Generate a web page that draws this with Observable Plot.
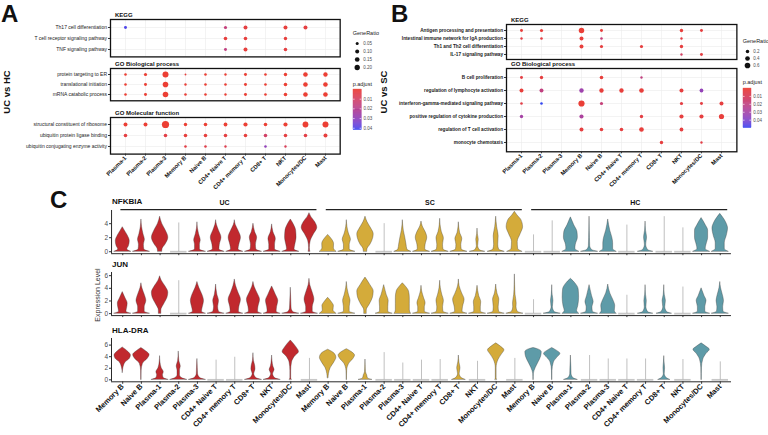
<!DOCTYPE html>
<html><head><meta charset="utf-8">
<script src="https://cdn.jsdelivr.net/npm/d3@7"></script>
<script src="https://cdn.jsdelivr.net/npm/@observablehq/plot@0.6"></script>
<style>
body{margin:0;background:#fff;}
#fig{position:relative;width:768px;height:435px;overflow:hidden;background:#fff;}
</style></head><body><div id="fig"></div>
<script>
// ---------------- DATA ----------------
const cellsDot = ["Plasma-1","Plasma-2","Plasma-3","Memory B","Naive B","CD4+ Naive T","CD4+ memory T","CD8+ T","NKT","Monocytes/DC","Mast"];
const _ = null;
// Panel A (UC vs HC)
const aKeggTerms = ["Th17 cell differentiation","T cell receptor signaling pathway","TNF signaling pathway"];
const aKeggRatio = [
  [0.048,_,_,_,_,0.057,0.10,_,0.10,0.10,_],
  [_,_,_,_,_,0.078,0.078,_,0.067,_,_],
  [_,_,_,_,_,0.048,0.10,_,0.078,_,_]];
const aKeggP = [
  [0.040,_,_,_,_,0.016,0.003,_,0.002,0.003,_],
  [_,_,_,_,_,0.002,0.002,_,0.002,_,_],
  [_,_,_,_,_,0.017,0.002,_,0.003,_,_]];
const aBpTerms = ["protein targeting to ER","translational initiation","mRNA catabolic process"];
const aBpRatio = [
  [0.032,0.057,0.265,0.012,0.032,0.026,0.048,0.032,0.067,0.142,0.128],
  [0.032,0.048,0.226,0.026,0.032,0.032,0.048,0.032,0.078,0.142,0.142],
  [0.032,0.048,0.226,0.032,0.032,0.026,0.048,0.032,0.078,0.142,0.142]];
const aBpP = [
  [0.0002,0.0003,0.0001,0.002,0.0004,0.0005,0.0003,0.0004,0.0002,0.0001,0.0001],
  [0.0002,0.0003,0.0001,0.001,0.0004,0.0005,0.0003,0.0004,0.0002,0.0001,0.0001],
  [0.0002,0.0003,0.0001,0.001,0.0004,0.0005,0.0003,0.0004,0.0002,0.0001,0.0001]];
const aMfTerms = ["structural constituent of ribosome","ubiquitin protein ligase binding","ubiquitin conjugating enzyme activity"];
const aMfRatio = [
  [0.10,0.10,0.40,0.067,0.078,0.089,0.114,0.078,0.114,0.245,0.265],
  [0.078,_,0.078,0.078,0.078,0.078,0.078,0.078,0.078,0.078,0.10],
  [_,_,_,0.032,0.032,0.026,_,0.032,0.026,_,_]];
const aMfP = [
  [0.0001,0.0002,0.0001,0.0002,0.0001,0.0001,0.0001,0.0001,0.0001,0.0001,0.0001],
  [0.003,_,0.004,0.002,0.002,0.003,0.002,0.011,0.003,0.004,0.002],
  [_,_,_,0.004,0.005,0.006,_,0.030,0.008,_,_]];
// Panel B (UC vs SC)
const bKeggTerms = ["Antigen processing and presentation","Intestinal immune network for IgA production","Th1 and Th2 cell differentiation","IL-17 signaling pathway"];
const bKeggRatio = [
  [0.14,0.166,_,0.57,0.14,_,_,_,0.19,0.14,_],
  [0.081,0.10,_,0.28,0.10,_,_,_,0.081,_,_],
  [_,_,_,0.28,0.166,_,0.166,_,0.19,_,_],
  [_,_,_,_,_,_,_,_,0.081,0.14,_]];
const bKeggP = [
  [0.002,0.002,_,0.001,0.002,_,_,_,0.002,0.003,_],
  [0.004,0.004,_,0.002,0.018,_,_,_,0.004,_,_],
  [_,_,_,0.002,0.003,_,0.003,_,0.003,_,_],
  [_,_,_,_,_,_,_,_,0.012,0.004,_]];
const bBpTerms = ["B cell proliferation","regulation of lymphocyte activation","interferon-gamma-mediated signaling pathway","positive regulation of cytokine production","regulation of T cell activation","monocyte chemotaxis"];
const bBpRatio = [
  [0.14,0.19,_,_,0.22,_,0.081,_,_,_,_],
  [0.28,0.28,_,0.35,0.35,0.35,0.39,_,0.28,0.25,_],
  [0.10,0.10,_,0.75,0.166,_,_,_,0.166,0.14,0.28],
  [0.19,_,_,0.31,_,_,0.19,_,0.31,0.31,0.50],
  [_,_,_,0.28,0.22,0.22,0.39,_,0.25,_,_],
  [_,_,_,_,_,_,_,0.19,_,0.081,_]];
const bBpP = [
  [0.004,0.003,_,_,0.002,_,0.020,_,_,_,_],
  [0.002,0.020,_,0.032,0.002,0.002,0.002,_,0.003,0.035,_],
  [0.005,0.050,_,0.001,0.018,_,_,_,0.004,0.004,0.003],
  [0.030,_,_,0.028,_,_,0.004,_,0.003,0.003,0.002],
  [_,_,_,0.003,0.003,0.003,0.002,_,0.003,_,_],
  [_,_,_,_,_,_,_,0.003,_,0.005,_]];
const aLegendRatio = [0.05,0.10,0.15,0.20];
const aLegendLabels = ["0.05","0.10","0.15","0.20"];
const bLegendRatio = [0.2,0.4,0.6];
const bLegendLabels = ["0.2","0.4","0.6"];
const pTicks = [0.01,0.02,0.03,0.04];

// Panel C: violin profiles [expression level, relative width]; a single number = flat violin (top of line)
const groupsC = ["UC","SC","HC"];
const cellsC = ["Memory B","Naive B","Plasma-1","Plasma-2","Plasma-3","CD4+ Naive T","CD4+ memory T","CD8+ T","NKT","Monocytes/DC","Mast"];
const genesC = ["NFKBIA","JUN","HLA-DRA"];
const nfkbiaUC = [
  [[0,1],[0.3,0.55],[0.8,0.75],[1.5,0.85],[2.3,0.6],[3,0.25],[3.5,0]],
  [[0,1],[0.3,0.35],[1,0.3],[1.7,0.42],[2.5,0.25],[3.5,0.08],[4.6,0]],
  [[0,0.25],[0.4,0.3],[1,0.65],[2,1],[3,0.7],[4,0.25],[5,0]],
  4.1,
  [[0,1],[0.3,0.3],[1,0.3],[1.6,0.4],[2.5,0.2],[3.3,0.06],[4.2,0]],
  [[0,1],[0.3,0.4],[1,0.45],[2,0.65],[3,0.35],[3.8,0.1],[4.5,0]],
  [[0,1],[0.3,0.45],[1,0.55],[2,0.75],[3,0.45],[3.8,0.12],[4.5,0]],
  [[0,1],[0.3,0.35],[1,0.3],[2,0.45],[2.8,0.2],[4,0]],
  [[0,1],[0.3,0.35],[1,0.35],[1.8,0.45],[2.8,0.15],[3.9,0]],
  [[0,1],[0.3,0.45],[1,0.55],[2,0.7],[3,0.65],[3.8,0.4],[4.6,0]],
  [[0,0.1],[0.5,0.05],[1.5,0.15],[2.5,0.55],[3.4,0.95],[4.2,0.7],[5,0.2],[5.5,0]]];
const nfkbiaSC = [
  [[0,1],[0.5,0.7],[1.1,0.72],[1.7,0.5],[2.4,0]],
  [[0,1],[0.3,0.35],[1,0.35],[1.7,0.5],[2.6,0.25],[3.5,0.08],[4.5,0]],
  [[0,0.2],[0.4,0.25],[1,0.6],[2,0.95],[2.5,1],[3.3,0.7],[4.2,0.25],[5,0]],
  4.0,
  [[0,1],[0.3,0.55],[1,0.45],[2,0.3],[3,0.12],[4.5,0]],
  [[0,1],[0.3,0.45],[1,0.5],[2,0.7],[2.8,0.5],[3.6,0.15],[4.3,0]],
  [[0,1],[0.3,0.4],[1,0.35],[1.9,0.45],[2.8,0.2],[3.8,0.05],[4.7,0]],
  [[0,1],[0.3,0.35],[1,0.3],[1.8,0.42],[2.7,0.15],[4.2,0]],
  [[0,0.9],[0.2,0.3],[0.8,0.08],[1.7,0.15],[2.5,0.04],[3.3,0]],
  [[0,1],[0.3,0.35],[1,0.25],[2.2,0.3],[3.5,0.12],[5,0]],
  [[0,0.9],[0.4,0.4],[1.4,0.35],[2.5,0.7],[3.5,1],[4.5,0.8],[5.2,0.3],[5.7,0]]];
const nfkbiaHC = [
  2.4,
  4.4,
  [[0,1],[0.4,0.55],[1,0.6],[2,0.85],[2.8,0.8],[3.8,0.4],[4.9,0]],
  [[0,1],[0.25,0.3],[0.8,0.08],[2,0.05],[3,0.03],[5,0]],
  [[0,1],[0.4,0.6],[1.2,0.6],[2,0.5],[3,0.25],[4.6,0]],
  3.8,
  [[0,0.9],[0.25,0.3],[1,0.08],[2,0.18],[3,0.06],[4.3,0]],
  5.0,
  3.4,
  [[0,1],[0.4,0.5],[1,0.6],[2,0.8],[3,0.8],[3.8,0.5],[4.8,0]],
  [[0,1],[0.4,0.55],[1.2,0.55],[2.3,0.8],[3.3,0.95],[4.2,0.7],[5.4,0]]];
const junUC = [
  [[0,1],[0.3,0.45],[1,0.55],[1.6,0.6],[2.4,0.35],[3.4,0]],
  [[0,1],[0.3,0.4],[1,0.4],[2,0.6],[3,0.4],[4,0.12],[4.8,0]],
  [[0,0.15],[0.5,0.15],[1.5,0.5],[2.5,0.9],[3.3,1],[4.2,0.7],[5.2,0.2],[5.9,0]],
  5.2,
  [[0,1],[0.3,0.55],[1,0.65],[2,0.8],[3,0.6],[4,0.25],[5,0]],
  [[0,1],[0.3,0.35],[1,0.25],[2,0.35],[3,0.15],[4.6,0]],
  [[0,1],[0.3,0.5],[1,0.55],[2.2,0.75],[3.3,0.45],[4.4,0.15],[5.4,0]],
  [[0,1],[0.3,0.55],[1,0.6],[2.2,0.8],[3.2,0.5],[4.2,0.15],[5,0]],
  [[0,1],[0.3,0.55],[1,0.6],[2,0.75],[3,0.45],[4.3,0]],
  [[0,1],[0.25,0.3],[0.8,0.1],[2,0.06],[3,0.03],[4.1,0]],
  [[0,1],[0.3,0.4],[1,0.4],[2.2,0.6],[3.3,0.4],[4.5,0.1],[5.5,0]]];
const junSC = [
  [[0,1],[0.5,0.65],[1.2,0.7],[1.8,0.45],[2.5,0]],
  [[0,1],[0.3,0.35],[1,0.35],[2,0.45],[3,0.25],[4,0.08],[5,0]],
  [[0,0.15],[0.5,0.15],[1.5,0.55],[2.5,0.9],[3.5,1],[4.5,0.6],[5.7,0]],
  [[0,1],[0.3,0.5],[1,0.5],[2,0.55],[3,0.3],[4.5,0]],
  [[0,1],[0.5,0.85],[1.5,0.85],[2.5,0.85],[3.5,0.75],[4.3,0.35],[4.8,0]],
  [[0,1],[0.3,0.4],[1,0.4],[1.6,0.5],[2.5,0.3],[3.5,0.08],[4.4,0]],
  [[0,1],[0.3,0.4],[1,0.35],[2,0.45],[3,0.25],[4,0.08],[5.2,0]],
  [[0,1],[0.3,0.45],[1,0.5],[2.2,0.7],[3.2,0.4],[4.3,0.1],[5.4,0]],
  [[0,1],[0.3,0.4],[1,0.4],[1.8,0.45],[2.8,0.2],[4.4,0]],
  [[0,1],[0.3,0.35],[1,0.3],[2.2,0.38],[3.2,0.15],[4.6,0]],
  [[0,1],[0.3,0.35],[1,0.2],[1.6,0.22],[3,0.08],[4.5,0.03],[6.2,0]]];
const junHC = [
  2.2,
  [[0,1],[0.25,0.3],[1,0.08],[2,0.15],[3,0.05],[4.5,0]],
  [[0,1],[0.4,0.75],[1.2,0.9],[2.5,1],[3.8,0.95],[4.7,0.6],[5.5,0]],
  [[0,1],[0.3,0.4],[1,0.35],[1.8,0.5],[2.8,0.3],[4.5,0]],
  [[0,1],[0.4,0.8],[1.2,0.85],[2.2,0.6],[3.2,0.25],[4.6,0]],
  2.9,
  [[0,0.9],[0.25,0.3],[1,0.1],[2,0.15],[3,0.05],[4.5,0]],
  [[0,0.9],[0.25,0.35],[1,0.12],[2,0.2],[3,0.06],[4.5,0]],
  4.2,
  [[0,1],[0.3,0.45],[1,0.45],[2,0.6],[2.8,0.35],[4,0]],
  [[0,1],[0.3,0.4],[1,0.35],[2,0.45],[3,0.3],[4,0.1],[5,0]]];
const hladraUC = [
  [[1.2,0],[2,0.08],[3,0.35],[3.6,0.85],[4.2,1],[4.8,0.7],[5.6,0]],
  [[0,0.02],[1.5,0.03],[2.8,0.2],[3.6,0.75],[4.3,1],[4.9,0.6],[5.5,0]],
  [[0,1],[0.3,0.45],[0.8,0.35],[1.3,0.45],[2,0.2],[3,0.05],[4.1,0]],
  [[0,1],[0.3,0.4],[0.8,0.15],[1.6,0.15],[2.3,0.25],[3.2,0.08],[4.9,0]],
  [[0,1],[0.3,0.35],[1,0.08],[2,0.05],[3.6,0]],
  3.4,
  3.9,
  [[0,1],[0.3,0.35],[1,0.1],[1.8,0.25],[2.5,0.2],[3.3,0.06],[4.6,0]],
  [[0,1],[0.3,0.35],[1,0.12],[1.7,0.3],[2.3,0.15],[3.2,0.05],[4.2,0]],
  [[0,0.12],[0.3,0.05],[1.5,0.05],[3,0.15],[4,0.5],[4.8,1],[5.6,0.7],[6.8,0]],
  3.7];
const hladraSC = [
  [[0.3,0.05],[1,0.1],[2,0.3],[3,0.75],[3.8,1],[4.5,0.8],[5.2,0]],
  [[0,0.02],[1.5,0.04],[2.8,0.3],[3.6,0.8],[4.2,1],[4.7,0.7],[5.3,0]],
  [[0,0.8],[0.25,0.3],[0.8,0.2],[1.3,0.06],[2.5,0.02],[3.5,0]],
  4.7,
  2.9,
  3.4,
  3.5,
  [[0,0.8],[0.3,0.35],[1,0.1],[2,0.2],[3,0.07],[4.2,0]],
  3.2,
  [[0,0.1],[0.3,0.05],[2,0.05],[3.5,0.3],[4.4,0.7],[5.1,1],[5.7,0.6],[6.3,0]],
  3.7];
const hladraHC = [
  [[0,0.02],[1,0.04],[2,0.25],[3,0.6],[4,0.92],[4.8,1],[5.3,0.5],[5.5,0]],
  [[0,0.02],[1.5,0.03],[3,0.2],[3.8,0.6],[4.5,1],[5,0.6],[5.5,0]],
  [[0,0.8],[0.3,0.3],[1,0.08],[2,0.06],[3,0.03],[4.2,0]],
  4.2,
  3.6,
  3.6,
  3.6,
  [[0,0.7],[0.3,0.3],[1,0.06],[2,0.1],[3,0.04],[4.1,0]],
  3.5,
  [[0,0.02],[2,0.04],[3.5,0.2],[4.5,0.6],[5.2,1],[5.7,0.6],[6.3,0]],
  3.1];

// ---------------- STYLE / HELPERS ----------------
const FONT = '"Liberation Sans", Arial, Helvetica, sans-serif';
const RED = "#ec3f33", BLUE = "#3347f2";
const groupColors = ["#c1292e","#d4ab3a","#5e9ba8"];
const fig = document.getElementById("fig");

function put(opts, frame, pad) {
  const [x0,y0,x1,y1] = frame;
  const [t,r,b,l] = pad;
  const svg = Plot.plot({...opts, width: x1-x0+l+r, height: y1-y0+t+b,
    marginTop:t, marginRight:r, marginBottom:b, marginLeft:l,
    style:{background:"transparent", fontFamily:FONT, overflow:"visible", maxWidth:"none"}});
  svg.style.position = "absolute";
  svg.style.left = (x0-l) + "px";
  svg.style.top = (y0-t) + "px";
  fig.appendChild(svg);
  return svg;
}
const colorCfg = d => ({type:"linear", domain:d, range:[RED,BLUE], interpolate:"lab"});

function dotFacet(title, terms, ratios, pvals, frame, cfg) {
  const rows = [];
  terms.forEach((t,i) => cellsDot.forEach((c,j) => {
    if (ratios[i][j] != null) rows.push({term:t, cell:c, ratio:ratios[i][j], p:pvals[i][j]});
  }));
  const marks = [
    Plot.gridX(cellsDot, {stroke:"#ebebeb", strokeOpacity:1, strokeWidth:0.6}),
    Plot.gridY(terms, {stroke:"#ebebeb", strokeOpacity:1, strokeWidth:0.6}),
    Plot.axisY({label:null, tickSize:2, tickPadding:1.5, fontSize:cfg.yFont, fontWeight:cfg.yWeight, fill:"#1a1a1a", stroke:"#333"}),
    Plot.dot(rows, {x:"cell", y:"term", r:"ratio", fill:"p"}),
    Plot.frame({stroke:"#111", strokeWidth:1.3}),
    Plot.text([title], {text:d=>d, frameAnchor:"top-left", lineAnchor:"bottom", textAnchor:"start", dx:4.5, dy:-2, fontSize:6, fontWeight:"bold", fill:"#111"})
  ];
  if (cfg.xAxis) marks.push(Plot.axisX({label:null, tickSize:2, tickPadding:1, tickRotate:-45, fontSize:5.8, fontWeight:"bold", fill:"#111", stroke:"#333"}));
  put({
    x:{type:"point", domain:cellsDot, padding:0.6, axis:null, label:null},
    y:{type:"point", domain:terms, padding:0.6, axis:null, label:null},
    r:{type:"pow", exponent:0.5, domain:cfg.rDomain, range:cfg.rRange},
    color:colorCfg(cfg.pDomain),
    marks
  }, frame, [12, 4, 50, cfg.left]);
}

function sizeLegend(vals, labels, frame, cfg) {
  const d = vals.map((v,i)=>({v, lab:labels[i]}));
  put({
    y:{type:"point", domain:labels, padding:0, axis:null},
    r:{type:"pow", exponent:0.5, domain:cfg.rDomain, range:cfg.rRange},
    marks:[
      Plot.dot(d, {y:"lab", r:"v", fill:"#111", frameAnchor:"left", dx:cfg.dotDx}),
      Plot.text(d, {y:"lab", text:"lab", frameAnchor:"left", dx:cfg.textDx, textAnchor:"start", fontSize:4.5, fill:"#4d4d4d"})
    ]
  }, frame, [4,10,4,4]);
}

function colorbar(pDomain, frame) {
  const step = pDomain[1]/80;
  const steps = d3.range(0, pDomain[1], step);
  put({
    x:{domain:[0,1], axis:null},
    y:{domain:[pDomain[1], pDomain[0]], axis:null},
    color:colorCfg(pDomain),
    marks:[
      Plot.rect(steps, {x1:0, x2:1, y1:d=>d, y2:d=>Math.min(d+step, pDomain[1]), fill:d=>d, stroke:d=>d, strokeWidth:0.3}),
      Plot.ruleY(pTicks, {x1:0, x2:0.2, y:d=>d, stroke:"white", strokeWidth:0.6}),
      Plot.ruleY(pTicks, {x1:0.8, x2:1, y:d=>d, stroke:"white", strokeWidth:0.6}),
      Plot.text(pTicks, {y:d=>d, text:d=>d.toFixed(2), frameAnchor:"right", dx:1.8, textAnchor:"start", fontSize:4.5, fill:"#4d4d4d"})
    ]
  }, frame, [2,16,2,2]);
}

// ---------------- PANEL A ----------------
const aCfg = {rDomain:[0.02,0.40], rRange:[1.1,3.6], pDomain:[0,0.042], left:110, yFont:5, yWeight:"normal"};
dotFacet("KEGG", aKeggTerms, aKeggRatio, aKeggP, [110.3,19.3,340,56.7], aCfg);
dotFacet("GO Biological process", aBpTerms, aBpRatio, aBpP, [110.3,67.7,340,100], aCfg);
dotFacet("GO Molecular function", aMfTerms, aMfRatio, aMfP, [110.3,116.7,340,153.3], {...aCfg, xAxis:true});
sizeLegend(aLegendRatio, aLegendLabels, [354,43,372,67.7], {...aCfg, dotDx:2.7, textDx:8.7});
colorbar(aCfg.pDomain, [352.7,89.3,361,130]);

// ---------------- PANEL B ----------------
const bCfg = {rDomain:[0.05,0.75], rRange:[1.0,3.1], pDomain:[0,0.05], left:121, yFont:4.7, yWeight:"bold"};
dotFacet("KEGG", bKeggTerms, bKeggRatio, bKeggP, [505.6,24.3,736,59.3], bCfg);
dotFacet("GO Biological process", bBpTerms, bBpRatio, bBpP, [505.6,67.7,736,151], {...bCfg, xAxis:true});
sizeLegend(bLegendRatio, bLegendLabels, [744,50,760,65.7], {...bCfg, dotDx:3, textDx:8.7});
colorbar(bCfg.pDomain, [743,87.7,751,127.3]);

// ---------------- PANEL C ----------------
const HW = 0.44;
const allCells = groupsC.flatMap(() => cellsC);
const idx = allCells.map((_, i) => i);
const groupSpans = groupsC.map((g, gi) => ({g, start: gi*cellsC.length, end: gi*cellsC.length + cellsC.length - 1}));

function violinRow(profiles, frame, yDomain, yTicks, opt) {
  const shapes = [], flats = [];
  groupsC.forEach((g, gi) => profiles[gi].forEach((p, ci) => {
    const i = gi*cellsC.length + ci;
    if (typeof p === "number") flats.push({i, g, top:p});
    else p.forEach(([y,w]) => shapes.push({i, g, y, x1:i - w*HW, x2:i + w*HW}));
  }));
  const marks = [
    Plot.ruleY(flats, {x1:d=>d.i-HW, x2:d=>d.i+HW, y:0, stroke:"#c8c8c8", strokeWidth:1.8}),
    Plot.ruleX(flats, {x:"i", y1:0, y2:"top", stroke:"#8c8c8c", strokeWidth:0.55}),
    Plot.areaX(shapes, {x1:"x1", x2:"x2", y:"y", z:"i", fill:"g", stroke:"#333", strokeWidth:0.35, curve:"monotone-y"}),
    Plot.ruleX([-0.6], {stroke:"#111", strokeWidth:0.9}),
    Plot.ruleY([yDomain[0]], {stroke:"#111", strokeWidth:0.9}),
    Plot.axisY({label:null, ticks:yTicks, tickFormat:d3.format("d"), tickSize:2, tickPadding:1.5, fontSize:6.5, fill:"#4d4d4d", stroke:"#333"})
  ];
  if (opt.labels) marks.push(Plot.axisX({label:null, ticks:idx, tickFormat:i=>allCells[i], tickRotate:-45, tickSize:2.5, tickPadding:1, fontSize:7.5, fontWeight:"bold", fill:"#111", stroke:"#333"}));
  else marks.push(Plot.axisX({label:null, ticks:idx, tickFormat:()=>"", tickSize:2, stroke:"#333"}));
  if (opt.groups) {
    marks.push(Plot.ruleY(groupSpans, {x1:d=>d.start-0.1, x2:d=>d.end+0.4, y:6.0, stroke:"#222", strokeWidth:1.2}));
    marks.push(Plot.text(groupSpans, {x:d=>(d.start+d.end)/2+0.45, y:7.0, text:"g", fontSize:7, fontWeight:"bold", fill:"#111"}));
  }
  put({
    x:{domain:[-0.6,32.6], axis:null, label:null},
    y:{domain:yDomain, axis:null, label:null},
    color:{domain:groupsC, range:groupColors},
    marks
  }, frame, [14, 6, opt.labels ? 55 : 6, 20]);
}
violinRow([nfkbiaUC,nfkbiaSC,nfkbiaHC], [111,209.8,731,253], [-0.28,5.88], [0,2,4], {groups:true});
violinRow([junUC,junSC,junHC], [111,271.9,731,315], [-0.31,6.5], [0,2,4,6], {});
violinRow([hladraUC,hladraSC,hladraHC], [111,337.7,731,381], [-0.34,7.14], [0,2,4,6], {labels:true});

// ---------------- FREE TEXT ----------------
const ov = d3.create("svg").attr("width",768).attr("height",435)
  .style("position","absolute").style("left","0px").style("top","0px").style("overflow","visible");
function T(txt, x, y, o={}) {
  const t = ov.append("text").attr("x",x).attr("y",y).text(txt)
    .attr("font-family",FONT).attr("font-size",o.size||6).attr("font-weight",o.weight||"normal")
    .attr("fill",o.fill||"#111").attr("text-anchor",o.anchor||"start");
  if (o.rotate) t.attr("transform",`rotate(${o.rotate},${x},${y})`);
}
T("A", 1, 22, {size:24, weight:"bold"});
T("B", 391, 22, {size:24, weight:"bold"});
T("C", 50, 208, {size:24, weight:"bold"});
T("UC vs HC", 10, 92, {size:9.5, weight:"bold", anchor:"middle", rotate:-90});
T("UC vs SC", 387, 92, {size:9.5, weight:"bold", anchor:"middle", rotate:-90});
T("Expression Level", 99.5, 295, {size:7, fill:"#333", anchor:"middle", rotate:-90});
T(genesC[0], 112, 204, {size:8, weight:"bold"});
T(genesC[1], 112, 267.3, {size:8, weight:"bold"});
T(genesC[2], 112, 332.7, {size:8, weight:"bold"});
T("GeneRatio", 352.7, 35, {size:5.5, fill:"#1a1a1a"});
T("p.adjust", 352.7, 86, {size:5.5, fill:"#1a1a1a"});
T("GeneRatio", 742.7, 43.3, {size:5.5, fill:"#1a1a1a"});
T("p.adjust", 742.7, 84, {size:5.5, fill:"#1a1a1a"});
fig.appendChild(ov.node());
</script></body></html>
